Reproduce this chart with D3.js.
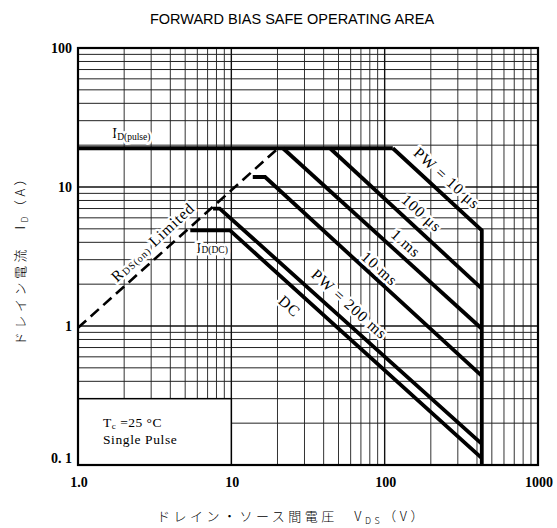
<!DOCTYPE html>
<html>
<head>
<meta charset="utf-8">
<script src="https://cdn.jsdelivr.net/npm/d3@7"></script>
<style>
html,body{margin:0;padding:0;background:#fff;}
svg{display:block;}
</style>
</head>
<body>
<svg id="chart" width="557" height="528"></svg>
<script>
// ---------- data ----------
const X_TICKS = [1, 10, 100, 1000];
const X_TICK_LABELS = ["1.0", "10", "100", "1000"];
const Y_TICKS = [0.1, 1, 10, 100];
const Y_TICK_LABELS = ["0. 1", "1", "10", "100"];

// [V_DS (V), I_D (A)]
const ID_PULSE  = [[1, 19], [113, 19]];
const RDS_LIMIT = [[1, 0.97], [20.2, 19]];
const PW_10US   = [[113, 19], [430, 4.87], [430, 0.1]];
const PW_100US  = [[44, 19], [430, 1.86]];
const PW_1MS    = [[21.7, 19], [430, 0.955]];
const PW_10MS   = [[13.8, 11.8], [16.6, 11.8], [430, 0.438]];
const PW_200MS  = [[7.6, 7.0], [8.4, 7.0], [430, 0.142]];
const DC_LINE   = [[5.4, 4.87], [9.8, 4.87], [430, 0.112]];

const NOTE_BOX = [[1, 0.1], [10, 0.3]];   // corner box (data coords)

// ---------- layout ----------
const svg = d3.select("#chart");
const x = d3.scaleLog().domain([1, 1000]).range([78, 538]);
const y = d3.scaleLog().domain([0.1, 100]).range([465, 48]);

// grid
const gridG = svg.append("g");
const xGrid = [], yGrid = [];
for (let k = 0; k < 3; k++) for (let m = 2; m <= 9; m++) xGrid.push(m * Math.pow(10, k));
for (let k = -1; k < 2; k++) for (let m = 2; m <= 9; m++) yGrid.push(m * Math.pow(10, k));
const xMajor = [10, 100], yMajor = [1, 10];

gridG.selectAll(".vx").data(xGrid).join("line")
  .attr("x1", d => x(d)).attr("x2", d => x(d))
  .attr("y1", y(100)).attr("y2", y(0.1))
  .attr("stroke", "#333").attr("stroke-width", 1);
gridG.selectAll(".hy").data(yGrid).join("line")
  .attr("y1", d => y(d)).attr("y2", d => y(d))
  .attr("x1", x(1)).attr("x2", x(1000))
  .attr("stroke", "#222").attr("stroke-width", 1);
gridG.selectAll(".vxm").data(xMajor).join("line")
  .attr("x1", d => x(d)).attr("x2", d => x(d))
  .attr("y1", y(100)).attr("y2", y(0.1))
  .attr("stroke", "#111").attr("stroke-width", 1.4);
gridG.selectAll(".hym").data(yMajor).join("line")
  .attr("y1", d => y(d)).attr("y2", d => y(d))
  .attr("x1", x(1)).attr("x2", x(1000))
  .attr("stroke", "#111").attr("stroke-width", 1.6);

// note box (clears grid)
svg.append("rect")
  .attr("x", x(NOTE_BOX[0][0])).attr("y", y(NOTE_BOX[1][1]))
  .attr("width", x(NOTE_BOX[1][0]) - x(NOTE_BOX[0][0]))
  .attr("height", y(NOTE_BOX[0][1]) - y(NOTE_BOX[1][1]))
  .attr("fill", "#fff").attr("stroke", "#000").attr("stroke-width", 1.5);

// frame
svg.append("rect")
  .attr("x", x(1)).attr("y", y(100))
  .attr("width", x(1000) - x(1)).attr("height", y(0.1) - y(100))
  .attr("fill", "none").attr("stroke", "#000").attr("stroke-width", 2.2);

// curves
const line = d3.line().x(d => x(d[0])).y(d => y(d[1]));
const curves = [ID_PULSE, PW_10US, PW_100US, PW_1MS, PW_10MS, PW_200MS, DC_LINE];
svg.append("g").selectAll("path").data(curves).join("path")
  .attr("d", line).attr("fill", "none").attr("stroke", "#000")
  .attr("stroke-width", 3.8).attr("stroke-linejoin", "miter");
svg.append("path").datum(RDS_LIMIT).attr("d", line)
  .attr("fill", "none").attr("stroke", "#000").attr("stroke-width", 2.6)
  .attr("stroke-dasharray", "11,6");

// tick labels
const serif = "'Liberation Serif','DejaVu Serif',serif";
svg.append("g").selectAll("text").data(Y_TICKS).join("text")
  .attr("x", 72).attr("y", (d, i) => y(d) + (i === 0 ? -2 : 5))
  .attr("text-anchor", "end").attr("font-family", serif)
  .attr("font-weight", "bold").attr("font-size", 14)
  .text((d, i) => Y_TICK_LABELS[i]);
svg.append("g").selectAll("text").data(X_TICKS).join("text")
  .attr("x", d => x(d) + 1).attr("y", 487)
  .attr("text-anchor", "middle").attr("font-family", serif)
  .attr("font-weight", "bold").attr("font-size", 14)
  .text((d, i) => X_TICK_LABELS[i]);

// title
svg.append("text").attr("x", 292).attr("y", 24)
  .attr("text-anchor", "middle")
  .attr("font-family", "'Liberation Sans',Arial,sans-serif")
  .attr("font-size", 14.5).text("FORWARD BIAS SAFE OPERATING AREA");

// axis titles
const cjk = "'Noto Sans CJK JP','Noto Sans',sans-serif";
const xt = svg.append("text").attr("x", 292).attr("y", 521)
  .attr("text-anchor", "middle").attr("font-family", cjk)
  .attr("font-size", 13).attr("font-weight", 300).attr("letter-spacing", 3.5);
xt.append("tspan").text("ドレイン・ソース間電圧　V");
xt.append("tspan").attr("font-size", 9).attr("dy", 3).text("DS");
xt.append("tspan").attr("dy", -3).text("（V）");

const yt = svg.append("text")
  .attr("transform", "translate(25,257) rotate(-90)")
  .attr("text-anchor", "middle").attr("font-family", cjk)
  .attr("font-size", 13).attr("font-weight", 300).attr("letter-spacing", 3.5);
yt.append("tspan").text("ドレイン電流　I");
yt.append("tspan").attr("font-size", 9).attr("dy", 3).text("D");
yt.append("tspan").attr("dy", -3).text("（A）");

// annotations (anchored in data coordinates)
function halo(sel) {
  return sel.attr("stroke", "#fff").attr("stroke-width", 5)
    .attr("paint-order", "stroke").attr("stroke-linejoin", "round");
}
const rotLabels = [
  {t: "PW = 10 μs", v: 255, i: 11.6, a: 42},
  {t: "100 μs", v: 175, i: 6.5, a: 42},
  {t: "1 ms", v: 138, i: 3.95, a: 42},
  {t: "10 ms", v: 93, i: 2.6, a: 42},
  {t: "PW = 200 ms", v: 59, i: 1.44, a: 42},
  {t: "DC", v: 24, i: 1.39, a: 42}
];
rotLabels.forEach(l => {
  halo(svg.append("text")
    .attr("transform", `translate(${x(l.v)},${y(l.i)}) rotate(${l.a})`)
    .attr("text-anchor", "middle").attr("dominant-baseline", "central")
    .attr("font-family", serif).attr("font-size", 15.5).attr("letter-spacing", 1)
    .text(l.t));
});

// R_DS(on) Limited
const rl = halo(svg.append("text")
  .attr("transform", `translate(${x(3.05)},${y(4.05)}) rotate(-43)`)
  .attr("text-anchor", "middle").attr("dominant-baseline", "central")
  .attr("font-family", serif).attr("font-size", 15.5).attr("letter-spacing", 1));
rl.append("tspan").text("R");
rl.append("tspan").attr("font-size", 10).attr("dy", 3).text("DS(on)");
rl.append("tspan").attr("dy", -3).text(" Limited");

// I_D(pulse)
const ip = halo(svg.append("text").attr("x", x(1.67)).attr("y", y(22.5))
  .attr("font-family", serif).attr("font-size", 15));
ip.append("tspan").text("I");
ip.append("tspan").attr("font-size", 9.5).attr("dy", 2).text("D(pulse)");

// I_D(DC)
const idc = halo(svg.append("text").attr("x", x(7.5)).attr("y", y(3.64))
  .attr("text-anchor", "middle").attr("dominant-baseline", "central")
  .attr("font-family", serif).attr("font-size", 15));
idc.append("tspan").text("I");
idc.append("tspan").attr("font-size", 9.5).attr("dy", 2).text("D(DC)");

// note text
const n1 = svg.append("text").attr("x", 103).attr("y", 427)
  .attr("font-family", serif).attr("font-size", 13.5).attr("letter-spacing", 0.5);
n1.append("tspan").text("T");
n1.append("tspan").attr("font-size", 9).attr("dy", 2).text("c");
n1.append("tspan").attr("dy", -2).text(" =25 °C");
svg.append("text").attr("x", 103).attr("y", 444)
  .attr("font-family", serif).attr("font-size", 13.5).attr("letter-spacing", 0.6)
  .text("Single Pulse");
</script>
</body>
</html>
